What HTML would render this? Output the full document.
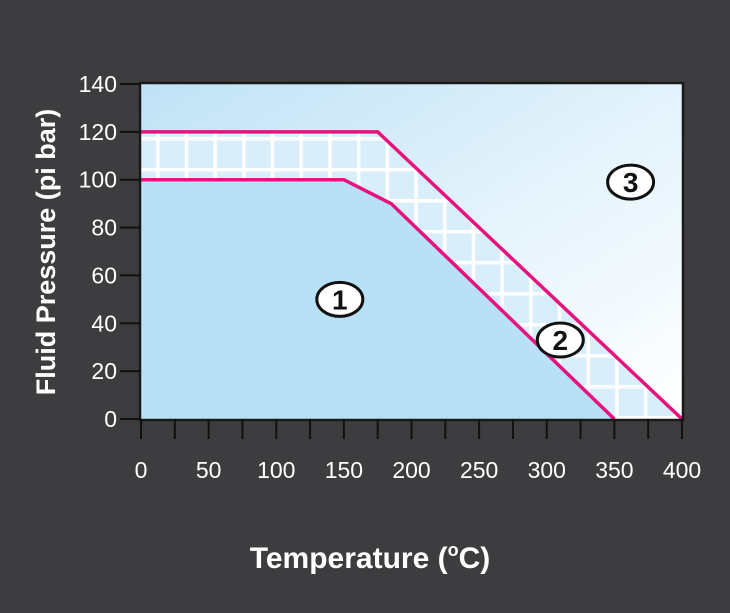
<!DOCTYPE html>
<html><head><meta charset="utf-8"><style>
html,body{margin:0;padding:0;background:#3d3c3e;}
svg{display:block;font-family:"Liberation Sans",sans-serif;}
</style></head><body>
<svg id="chart" width="730" height="613" viewBox="0 0 730 613">
<defs>
<linearGradient id="bg" x1="0" y1="0" x2="1" y2="1">
<stop offset="0" stop-color="#bfe2f6"/><stop offset="0.55" stop-color="#e6f4fc"/><stop offset="1" stop-color="#ffffff"/>
</linearGradient>
<pattern id="grid" x="141" y="137" width="28.7" height="31" patternUnits="userSpaceOnUse">
<rect width="28.7" height="31" fill="#d8eefa"/>
<rect x="15" y="0" width="3.5" height="31" fill="#fff"/>
<rect x="0" y="0" width="28.7" height="3.5" fill="#fff"/>
</pattern>
<clipPath id="plotclip"><rect x="141" y="84" width="541" height="335"/></clipPath>
</defs>
<rect x="141" y="84" width="541" height="335" fill="url(#bg)"/>
<g id="marks" clip-path="url(#plotclip)"></g>
<rect x="140" y="83" width="543" height="337" fill="none" stroke="#1a1a1a" stroke-width="2.5"/>
<g id="axes"></g>
<text x="55" y="252" transform="rotate(-90 55 252)" text-anchor="middle" fill="#fff" font-size="27" font-weight="bold">Fluid Pressure (pi bar)</text>
<text x="370" y="568" text-anchor="middle" fill="#fff" font-size="30" font-weight="bold">Temperature (<tspan font-size="18" dy="-12">o</tspan><tspan dy="12">C)</tspan></text>
</svg>
<script>
const upperT = [0, 175, 400];
const upperP = [120, 120, 0];
const lowerT = [0, 150, 185, 350];
const lowerP = [100, 100, 90, 0];
const yTicks = [0, 20, 40, 60, 80, 100, 120, 140];
const xTicks = [0, 50, 100, 150, 200, 250, 300, 350, 400];
const xMinorTicks = [0, 25, 50, 75, 100, 125, 150, 175, 200, 225, 250, 275, 300, 325, 350, 375, 400];
const regionLabels = ["1", "2", "3"];
const regionT = [147, 310, 362];
const regionP = [50, 33, 99];

const NS = "http://www.w3.org/2000/svg";
const X = t => 141 + t * (541 / 400);
const Y = p => 419 - p * (335 / 140);
function mk(tag, attrs, parent) {
  const e = document.createElementNS(NS, tag);
  for (const k in attrs) e.setAttribute(k, attrs[k]);
  parent.appendChild(e);
  return e;
}
const marks = document.getElementById("marks");
const axes = document.getElementById("axes");
const pts = (T, P) => T.map((t, i) => X(t) + "," + Y(P[i])).join(" ");

const r1 = mk("polygon", {points: pts(lowerT, lowerP) + " " + X(0) + "," + Y(0), fill: "#b8e0f6"}, marks);


const revT = lowerT.slice().reverse(), revP = lowerP.slice().reverse();
const r2 = mk("polygon", {points: pts(upperT, upperP) + " " + pts(revT, revP), fill: "url(#grid)"}, marks);



const l1 = mk("polyline", {points: pts(upperT, upperP), fill: "none", stroke: "#e6137f", "stroke-width": 3.5}, marks);


const l2 = mk("polyline", {points: pts(lowerT, lowerP), fill: "none", stroke: "#e6137f", "stroke-width": 3.5}, marks);



regionLabels.forEach((s, i) => {
  const g = mk("g", {}, marks);
  
  
  mk("ellipse", {cx: X(regionT[i]), cy: Y(regionP[i]), rx: 23, ry: 17, fill: "#fff", stroke: "#111", "stroke-width": 3}, g);
  const t = mk("text", {x: X(regionT[i]), y: Y(regionP[i]) + 10, "text-anchor": "middle", "font-size": 28, "font-weight": "bold", fill: "#111"}, g);
  t.textContent = s;
});

yTicks.forEach(v => {
  const ln = mk("line", {x1: 120, x2: 141, y1: Y(v), y2: Y(v), stroke: "#111", "stroke-width": 2}, axes);
  
  
  const t = mk("text", {x: 117, y: Y(v) + 8, "text-anchor": "end", "font-size": 23, fill: "#fff"}, axes);
  
  
  t.textContent = v;
});
xMinorTicks.forEach(v => {
  const ln = mk("line", {x1: X(v), x2: X(v), y1: 419, y2: 439, stroke: "#111", "stroke-width": 2}, axes);
  
  
});
xTicks.forEach(v => {
  const t = mk("text", {x: X(v), y: 478, "text-anchor": "middle", "font-size": 23, fill: "#fff"}, axes);
  
  
  t.textContent = v;
});
</script>
</body></html>
